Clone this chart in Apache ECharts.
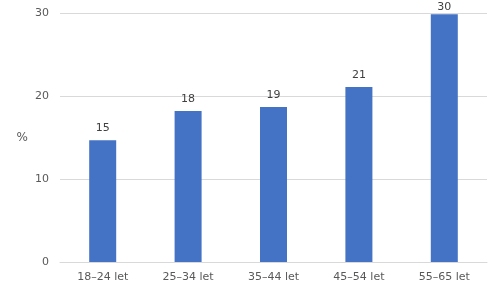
<!DOCTYPE html>
<html><head><meta charset="utf-8">
<script src="https://cdn.jsdelivr.net/npm/echarts@6/dist/echarts.min.js"></script>
<style>html,body{margin:0;padding:0;background:#fff}#c{width:500px;height:291px}</style>
</head><body><div id="c"></div>
<script>
const categories = ['18–24 let', '25–34 let', '35–44 let', '45–54 let', '55–65 let'];
const values = [14.7, 18.2, 18.7, 21.1, 29.9];
const yTicks = [0, 10, 20, 30];
const yName = '%';

const font = '"DejaVu Sans", Verdana, sans-serif';
const chart = echarts.init(document.getElementById('c'), null, {renderer: 'canvas'});
const maxV = yTicks[yTicks.length - 1];
chart.setOption({
  animation: false,
  grid: {left: 60, right: 13, top: 13.3, bottom: 29},
  xAxis: {
    type: 'category', data: categories,
    axisLine: {lineStyle: {color: '#d9d9d9'}},
    axisTick: {show: false},
    axisLabel: {color: '#595959', fontSize: 11, fontFamily: font, margin: 10}
  },
  yAxis: {
    type: 'value', min: yTicks[0], max: maxV, interval: 10,
    name: yName, nameLocation: 'middle', nameRotate: 0, nameGap: 32,
    nameTextStyle: {color: '#595959', fontSize: 12, fontFamily: font},
    splitLine: {lineStyle: {color: '#d9d9d9'}},
    axisLine: {show: false}, axisTick: {show: false},
    axisLabel: {color: '#595959', fontSize: 11, fontFamily: font, margin: 11}
  },
  series: [{
    type: 'bar',
    data: values.map(v => (maxV - v < 3 ? {value: v, label: {distance: 1}} : v)),
    barWidth: 27,
    itemStyle: {color: '#4472C4'},
    label: {show: true, position: 'top', distance: 6, color: '#404040', fontSize: 11, fontFamily: font,
      formatter: p => Math.round(p.value)}
  }]
});
</script></body></html>
